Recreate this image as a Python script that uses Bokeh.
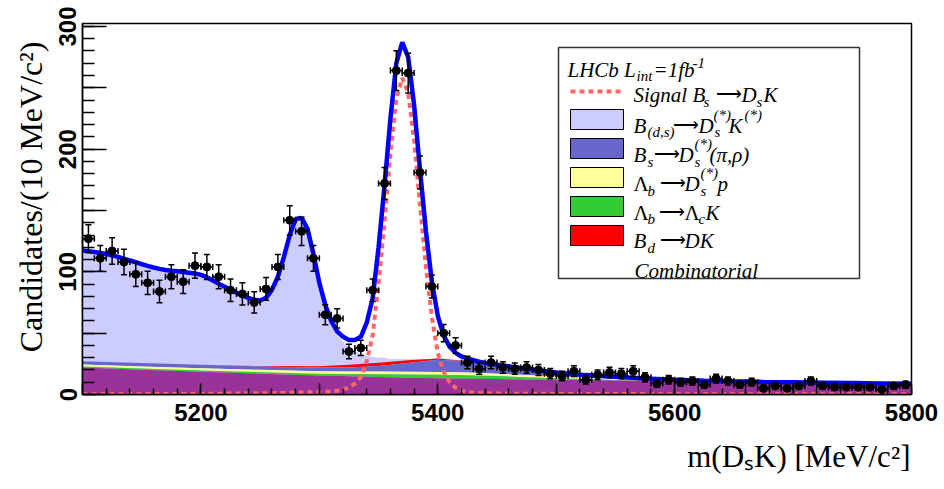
import math
import numpy as np
from bokeh.plotting import figure
from bokeh.models import Range1d, FixedTicker, Label, Title
from bokeh.embed import file_html
from bokeh.resources import INLINE

# ---------------- data ----------------
bin_centers = list(range(5105, 5800, 10))          # 10 MeV bins, 5100-5800
counts = [127, 111, 117, 108, 98, 91, 84, 96, 92, 105,
          104, 96, 85, 82, 75, 86, 104, 142, 133, 111,
          65, 62, 35, 38, 85, 172, 264, 262, 181, 88,
          50, 40, 26, 21, 26, 22, 21, 22, 20, 17,
          15, 19, 12, 16, 18, 17, 19, 14, 9, 12,
          10, 11, 8, 13, 11, 8, 10, 5, 7, 5,
          7, 11, 7, 6, 6, 6, 6, 4, 7, 8]

fit_x = list(range(5100, 5450, 5)) + list(range(5450, 5801, 25))
total_fit = [117.4, 116.8, 116.2, 115.4, 114.5, 113.5, 112.2, 110.8, 109.2, 107.8,
             106.3, 104.8, 103.5, 102.4, 101.5, 100.9, 100.4, 99.9, 99.3, 98.7,
             97.5, 95.6, 93.0, 90.2, 87.8, 85.3, 83.0, 80.7, 78.8, 77.2,
             76.6, 78.8, 85.5, 96.0, 112.0, 130.0, 143.0, 144.0, 135.0, 114.6,
             91.0, 73.0, 60.0, 51.5, 47.0, 44.5, 44.5, 47.0, 58.5, 78.5,
             120.0, 170.0, 225.0, 270.0, 287.0, 275.0, 236.0, 183.0, 133.0, 92.0,
             64.0, 48.0, 39.0, 34.0, 31.0, 29.5, 28.0, 26.8, 25.8, 25.0,
             24.3,
             21.0, 18.0, 15.8, 14.4, 13.0, 12.1, 11.3, 10.7, 10.2, 9.9, 9.6, 9.3, 9.0, 8.7]
signal_fit = [0.2, 0.2, 0.2, 0.2, 0.2, 0.3, 0.3, 0.3, 0.3, 0.3,
              0.3, 0.4, 0.4, 0.4, 0.4, 0.4, 0.5, 0.5, 0.5, 0.5,
              0.6, 0.6, 0.6, 0.7, 0.7, 0.8, 0.8, 0.9, 1.0, 1.0,
              1.0, 1.1, 1.1, 1.2, 1.3, 1.4, 1.5, 1.6, 1.8, 1.9,
              2.0, 2.2, 2.5, 3.0, 4.0, 6.0, 9.0, 14.0, 27.0, 48.0,
              90.0, 140.0, 196.0, 241.0, 258.0, 246.0, 207.0, 154.0, 104.0, 63.0,
              34.0, 18.5, 10.0, 5.5, 3.0, 2.0, 1.5, 1.2, 1.0, 0.9,
              0.8,
              0.6, 0.5, 0.4, 0.4, 0.3, 0.3, 0.3, 0.3, 0.3, 0.3, 0.3, 0.3, 0.3, 0.3]

comp_x = [5100, 5150, 5200, 5250, 5300, 5325, 5350, 5375, 5400, 5425,
          5450, 5475, 5500, 5550, 5600, 5650, 5700, 5750, 5800]
comb_bkg   = [22.0, 20.2, 18.6, 17.0, 15.5, 14.8, 14.2, 13.7, 13.3, 12.9,
              12.6, 12.3, 12.0, 11.4, 10.8, 10.2, 9.6, 9.0, 8.4]
lambda_ck  = [0.8, 0.9, 1.0, 1.2, 1.5, 1.9, 2.3, 2.6, 2.8, 2.8,
              2.4, 1.8, 1.2, 0.5, 0.2, 0.0, 0.0, 0.0, 0.0]
lambda_dsp = [1.6, 1.7, 1.8, 1.9, 2.0, 2.1, 2.2, 2.3, 2.3, 2.2,
              2.0, 1.7, 1.4, 0.8, 0.3, 0.1, 0.0, 0.0, 0.0]
bs_dspi    = [2.8, 2.8, 2.8, 2.8, 3.0, 3.3, 4.5, 7.0, 10.0, 9.0,
              6.0, 4.5, 2.9, 1.1, 0.4, 0.1, 0.0, 0.0, 0.0]
bd_dk      = [0.0, 0.0, 0.1, 0.3, 1.0, 2.2, 2.6, 2.3, 1.0, 0.3,
              0.1, 0.0, 0.0, 0.0, 0.0, 0.0, 0.0, 0.0, 0.0]

x_ticks = [5100, 5200, 5300, 5400, 5500, 5600, 5700, 5800]
x_tick_labels = {5100: "", 5200: "5200", 5300: "", 5400: "5400", 5500: "", 5600: "5600", 5700: "", 5800: "5800"}
y_ticks = [0, 50, 100, 150, 200, 250, 300]
y_tick_labels = {0: "0", 50: "", 100: "100", 150: "", 200: "200", 250: "", 300: "300"}

# ---------------- geometry ----------------
W, H = 944, 489
FL, FR, FT, FB = 82, 911, 23, 394
XMIN, XMAX = 5100, 5800
YMAX = 302.4


def dx(px):
    return XMIN + (px - FL) * (XMAX - XMIN) / (FR - FL)


def dy(py):
    return YMAX * (FB - py) / (FB - FT)


p = figure(width=W, height=H, output_backend="svg", toolbar_location=None,
           x_range=Range1d(XMIN, XMAX), y_range=Range1d(0, YMAX),
           min_border_left=FL, min_border_right=W - FR,
           min_border_top=FT, min_border_bottom=H - FB)
p.background_fill_color = "white"
p.border_fill_color = "white"
p.outline_line_color = "black"
p.outline_line_width = 1.5
p.xgrid.visible = False
p.ygrid.visible = False

# stacked background bands
bkg_all = np.array(total_fit) - np.array(signal_fit)
c1 = np.array(comb_bkg)
c2 = c1 + np.array(lambda_ck)
c3 = c2 + np.array(lambda_dsp)
c4 = c3 + np.array(bs_dspi)
c5 = c4 + np.array(bd_dk)

p.varea(x=fit_x, y1=0, y2=bkg_all, fill_color="#ccccff")
p.varea(x=comp_x, y1=c4, y2=c5, fill_color="#ff0000")
p.varea(x=comp_x, y1=c3, y2=c4, fill_color="#6666cc")
p.varea(x=comp_x, y1=c2, y2=c3, fill_color="#ffff99")
p.varea(x=comp_x, y1=c1, y2=c2, fill_color="#33cc33")
p.varea(x=comp_x, y1=0, y2=c1, fill_color="#993399")

p.line(fit_x, signal_fit, line_color="#ff6666", line_width=4, line_dash="5 4")
p.line(fit_x, total_fit, line_color="#0000ff", line_width=4.5)

# data points with errors
xc = np.array(bin_centers, dtype=float)
yc = np.array(counts, dtype=float)
err = np.sqrt(yc)
half = 5.0
p.segment(x0=xc, y0=yc - err, x1=xc, y1=yc + err, line_color="black", line_width=1.5)
p.segment(x0=xc - half, y0=yc, x1=xc + half, y1=yc, line_color="black", line_width=1.5)
p.scatter(np.concatenate([xc, xc]), np.concatenate([yc - err, yc + err]), marker="dash",
          size=6, line_color="black", line_width=1.5)
p.scatter(np.concatenate([xc - half, xc + half]), np.concatenate([yc, yc]), marker="dash",
          angle=math.pi / 2, size=6, line_color="black", line_width=1.5)
p.scatter(xc, yc, marker="circle", size=8, fill_color="black", line_color="black")

# axes
for ax in (p.xaxis, p.yaxis):
    ax.major_label_text_font = "Liberation Sans"
    ax.major_label_text_font_style = "bold"
    ax.major_label_text_font_size = "24px"
    ax.major_label_text_color = "black"
    ax.major_tick_out = 0
    ax.minor_tick_out = 0
    ax.axis_line_width = 1.5
    ax.axis_line_color = "black"
    ax.major_tick_line_width = 1.5
    ax.minor_tick_line_width = 1.5
    ax.major_tick_line_color = "black"
    ax.minor_tick_line_color = "black"

p.xaxis.ticker = FixedTicker(ticks=x_ticks, minor_ticks=list(range(5100, 5801, 20)))
p.xaxis.major_label_overrides = x_tick_labels
p.xaxis.major_label_standoff = 9
p.xaxis.major_tick_in = 11
p.xaxis.minor_tick_in = 6

p.yaxis.ticker = FixedTicker(ticks=y_ticks, minor_ticks=list(range(0, 301, 10)))
p.yaxis.major_label_overrides = y_tick_labels
p.yaxis.major_label_orientation = "vertical"
p.yaxis.major_label_standoff = 6
p.yaxis.major_tick_in = 24
p.yaxis.minor_tick_in = 12

# axis titles (right-aligned, ROOT style)
p.add_layout(Title(text="m(DₛK) [MeV/c²]", align="right", offset=1, standoff=26,
                   text_font="Liberation Serif", text_font_style="normal",
                   text_font_size="31px", text_color="black"), "below")
p.add_layout(Title(text="Candidates/(10 MeV/c²)", align="right", offset=18, standoff=15,
                   text_font="Liberation Serif", text_font_style="normal",
                   text_font_size="32px", text_color="black"), "left")

# ---------------- legend ----------------
p.quad(left=[dx(558)], right=[dx(859)], top=[dy(47)], bottom=[dy(278)],
       fill_color="white", line_color="#333333", line_width=1.5)
swatches = [("#ccccff", 109, 129), ("#6666cc", 138, 158), ("#ffff99", 167, 187),
            ("#33cc33", 196, 216), ("#ff0000", 225, 245)]
p.quad(left=[dx(570)] * 5, right=[dx(623)] * 5,
       top=[dy(t) for _, t, _ in swatches], bottom=[dy(b) for _, _, b in swatches],
       fill_color=[c for c, _, _ in swatches], line_color="black", line_width=1)
p.line([dx(570), dx(620)], [dy(91), dy(91)], line_color="#ff6666", line_width=4, line_dash="5 4")


def txt(s, px, py, size=21, italic=True, align="left", font="Liberation Serif"):
    p.add_layout(Label(x=dx(px), y=dy(py), text=s, text_font=font,
                       text_font_size=f"{size}px",
                       text_font_style="italic" if italic else "normal",
                       text_align=align, text_baseline="alphabetic",
                       text_color="black"))


ARROW = "⟶"
AS = 18   # arrow size
S = 15    # sub/sup size
# row 0
txt("LHCb L", 567, 69.5)
txt("int", 636, 75.5, size=S)
txt("=1fb", 653, 69.5)
txt("-1", 692, 62, size=S)
# row 1 signal
txt("Signal B", 633, 94.5)
txt("s", 703, 101.5, size=S)
txt(ARROW, 715, 93.5, size=AS, italic=False)
txt("D", 741, 94.5)
txt("s", 756, 101.5, size=S)
txt("K", 763, 94.5)
# row 2
txt("B", 633, 125)
txt("(d,s)", 647, 131, size=S)
txt(ARROW, 672, 124, size=AS, italic=False)
txt("D", 698, 125)
txt("(*)", 713, 114, size=S)
txt("s", 714, 131, size=S)
txt("K", 728, 125)
txt("(*)", 744, 114, size=S)
# row 3
txt("B", 633, 154.5)
txt("s", 647, 161, size=S)
txt(ARROW, 653, 153.5, size=AS, italic=False)
txt("D", 678, 154.5)
txt("(*)", 694, 143.5, size=S)
txt("s", 694, 161, size=S)
txt("(π,ρ)", 709, 154.5)
# row 4
txt("Λ", 633, 183.5, italic=False)
txt("b", 647, 190, size=S)
txt(ARROW, 659, 182.5, size=AS, italic=False)
txt("D", 684, 183.5)
txt("(*)", 700, 172, size=S)
txt("s", 700, 190, size=S)
txt("p", 717, 183.5)
# row 5
txt("Λ", 633, 212, italic=False)
txt("b", 647, 218.5, size=S)
txt(ARROW, 658, 211, size=AS, italic=False)
txt("Λ", 684, 212, italic=False)
txt("c", 698, 218.5, size=S)
txt("K", 705, 212)
# row 6
txt("B", 633, 240.5)
txt("d", 647, 247, size=S)
txt(ARROW, 659, 239.5, size=AS, italic=False)
txt("DK", 684, 240.5)
# row 7
txt("Combinatorial", 634, 270)

open("out.html", "w").write(file_html(p, INLINE))
